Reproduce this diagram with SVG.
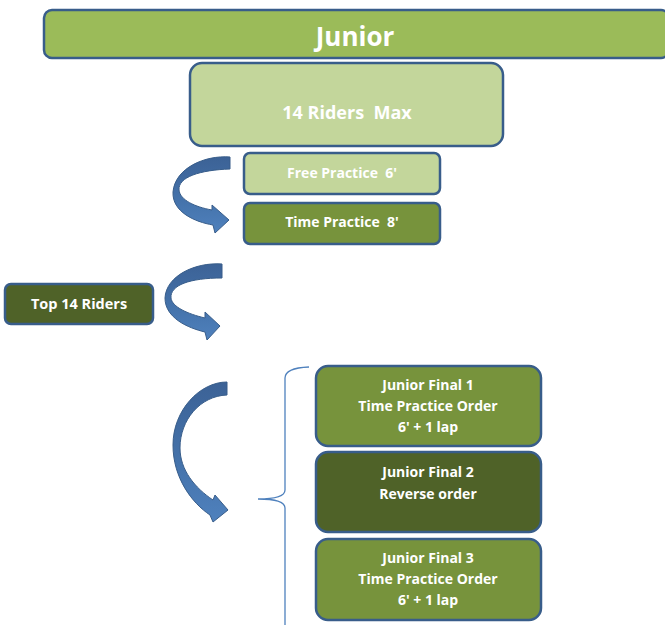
<svg xmlns="http://www.w3.org/2000/svg" width="665" height="625" viewBox="0 0 665 625" xml:space="preserve">
<style>
.box{stroke:#385D8A;stroke-width:2.5}
.light{fill:#C3D69B}
.mid{fill:#77933C}
.dark{fill:#4F6228}
.top{fill:#9BBB59}
text{font-family:"Open Sans","Liberation Sans",sans-serif;font-weight:bold;fill:#fff;text-anchor:middle;white-space:pre}
.arrow{fill:url(#ag);stroke:#385D8A;stroke-width:1}
</style>
<defs>
<linearGradient id="ag" x1="0" y1="0" x2="0" y2="1">
<stop offset="0" stop-color="#3C6296"/>
<stop offset="0.55" stop-color="#4472AA"/>
<stop offset="1" stop-color="#4F81BD"/>
</linearGradient>
</defs>
<g id="junior"><rect class="box top" x="44" y="10" width="625" height="48" rx="8"/><text x="355" y="46" font-size="26">Junior</text></g>
<g id="riders-max"><rect class="box light" x="190" y="63" width="313" height="83" rx="12"/><text x="347" y="119" font-size="18">14 Riders  Max</text></g>
<g id="free-practice"><rect class="box light" x="244" y="153" width="196" height="41" rx="6"/><text x="342" y="178" font-size="14">Free Practice  6'</text></g>
<g id="time-practice"><rect class="box mid" x="244" y="203" width="196" height="41" rx="6"/><text x="342" y="227" font-size="14">Time Practice  8'</text></g>
<g id="top14"><rect class="box dark" x="5" y="284" width="148" height="40" rx="6"/><text x="79" y="309" font-size="14.5">Top 14 Riders</text></g>
<g id="final1"><rect class="box mid" x="316" y="366" width="225" height="80" rx="12"/><text font-size="14"><tspan x="428" y="390">Junior Final 1</tspan><tspan x="428" y="411">Time Practice Order</tspan><tspan x="428" y="432">6' + 1 lap</tspan></text></g>
<g id="final2"><rect class="box dark" x="316" y="452" width="225" height="80" rx="12"/><text font-size="14"><tspan x="428" y="477">Junior Final 2</tspan><tspan x="428" y="499">Reverse order</tspan></text></g>
<g id="final3"><rect class="box mid" x="316" y="539" width="225" height="81" rx="12"/><text font-size="14"><tspan x="428" y="563">Junior Final 3</tspan><tspan x="428" y="584">Time Practice Order</tspan><tspan x="428" y="605">6' + 1 lap</tspan></text></g>
<g id="connectors">
<path class="arrow" d="M230,157 C205,155 175,168 173,192 C172,212 195,222 213,225 L215,233 L229,220 L212,205 L212,210 C195,207 180,200 179,190 C178,177 200,170 230,169 Z"/>
<path class="arrow" d="M222,264 C195,262 166,276 165,298 C165,318 188,328 205,332 L207,340 L220,326 L205,312 L205,318 C188,314 172,307 171,298 C170,285 190,278 222,278 Z"/>
<path class="arrow" d="M227,382 C200,382 173,410 173,445 C173,478 192,503 210,515 L213,522 L228,510 L215,495 L213,500 C195,488 180,470 180,448 C180,420 200,396 227,395 Z"/>
<path d="M309,367 Q285,368 285,378 L285,490 Q285,499 258,499 Q285,499 285,508 L285,625" fill="none" stroke="#4F81BD" stroke-width="1.3"/>
</g>
</svg>
